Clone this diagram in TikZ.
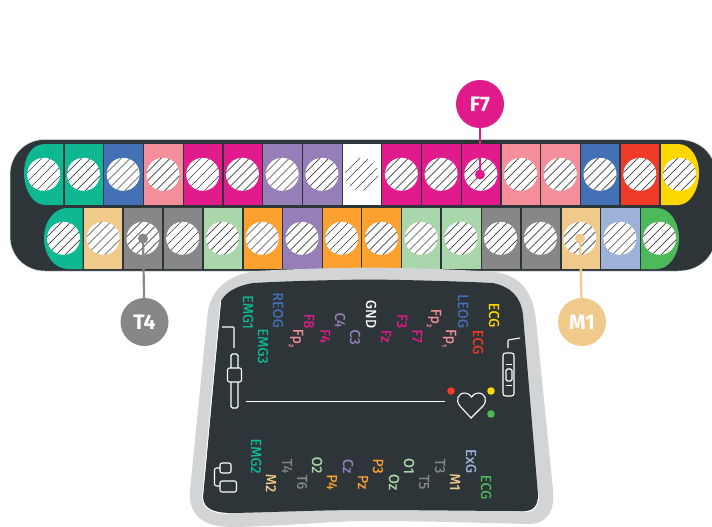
\documentclass[tikz,border=0pt]{standalone}
\usepackage{fontspec}
\setmainfont{Fira Sans}
\newfontfamily\labfont[FakeBold=0.35]{Fira Sans}
\definecolor{cdark}{HTML}{2E3538}
\definecolor{cedge}{HTML}{D3D4D6}
\definecolor{cteal}{HTML}{0DB893}
\definecolor{cblue}{HTML}{4470B6}
\definecolor{cpink}{HTML}{F48E9A}
\definecolor{cmag}{HTML}{E21B8C}
\definecolor{cpurp}{HTML}{967EB8}
\definecolor{cred}{HTML}{F03B27}
\definecolor{cyel}{HTML}{FFD700}
\definecolor{corg}{HTML}{FCA02F}
\definecolor{clgr}{HTML}{A9D6AB}
\definecolor{cgray}{HTML}{868786}
\definecolor{ctan}{HTML}{F0CA8B}
\definecolor{clbl}{HTML}{9DB2D9}
\definecolor{cgrn}{HTML}{4CB95B}
\newcommand{\hatchdisc}[2]{%
  \fill[white] (#1,#2) circle[radius=16.5];
  \begin{scope}
    \clip (#1,#2) circle[radius=16.5];
    \foreach \d in {-18,-13.5,...,18}
      \draw[hatchline] ({#1-20+\d},{#2+20+\d}) -- ({#1+20+\d},{#2-20+\d});
  \end{scope}}
\newcommand{\lowidx}[1]{\raisebox{-0.28em}{\fontsize{6.5}{7}\selectfont #1}}
\tikzset{
  hatchline/.style={draw=black!75,line width=0.65pt},
  lab/.style={rotate=-90,inner sep=0,font=\labfont\fontsize{14.5}{15}\selectfont},
  badge/.style={circle,minimum size=48pt,inner sep=0,text=white,font=\bfseries\fontsize{21}{22}\selectfont},
  icon/.style={draw=white,line width=1.1pt,rounded corners=1.5pt},
  pin/.style={line width=2.2pt}
}
\begin{document}
\begin{tikzpicture}[x=1pt,y=-1pt]
\useasboundingbox (0,0) rectangle (712,527);
% bar
\fill[cdark,draw=cedge,line width=0.5pt] (45,139.5) -- (678,139.5) .. controls (697,139.5) and (712,150) .. (716,170) -- (716,240) .. controls (712,260) and (697,271) .. (678,271) -- (45,271) .. controls (25,271) and (10,256) .. (10,236) -- (10,175) .. controls (10,155) and (25,139.5) .. (45,139.5) -- cycle;
% top row cells
\fill[cteal] (63,144) -- (45,144) .. controls (31,144) and (24,158) .. (24,173) .. controls (24,190) and (33,205) .. (45,205) -- (63,205) -- cycle;
\foreach \xa/\xb/\c in {65/103/cteal,104/142.5/cblue,144/182.5/cpink,184/222/cmag,223.5/261.5/cmag,263/301.5/cpurp,303/342/cpurp,343/381/white,382/421/cmag,422/460.5/cmag,462/500/cmag,502/540/cpink,541/579.5/cpink,581/619/cblue,621/659/cred}
  \fill[\c] (\xa,144) rectangle (\xb,205);
\fill[cyel] (661,144) -- (678,144) .. controls (691,144) and (699,158) .. (699,173) .. controls (699,190) and (690,205) .. (678,205) -- (661,205) -- cycle;
% bottom row cells
\fill[cteal] (82.5,208) -- (68,208) .. controls (52,208) and (44,224) .. (44,238) .. controls (44,255) and (54,269) .. (68,269) -- (82.5,269) -- cycle;
\foreach \xa/\xb/\c in {84/122/ctan,124/162/cgray,164/202/cgray,204/242/clgr,243.5/281.5/corg,283/321.5/cpurp,323/361/corg,362/400.5/corg,402/440/clgr,442/480.5/clgr,482/519.5/cgray,521.5/559.5/cgray,561.5/599.5/ctan,601/639.5/clbl}
  \fill[\c] (\xa,208) rectangle (\xb,269);
\fill[cgrn] (641,208) -- (657,208) .. controls (671,208) and (679,224) .. (679,238) .. controls (679,255) and (669,269) .. (657,269) -- (641,269) -- cycle;
% hatched discs
\foreach \x in {43.7,83.5,123.2,163,202.7,242.4,282.2,321.9,361.7,401.4,441.1,480.8,520.6,560.3,600,639.8,679.5}
  {\hatchdisc{\x}{174.3}}
\foreach \x in {63.5,103.2,143,182.7,222.5,262.2,302,341.7,381.4,421.2,460.9,500.6,540.4,580.1,619.9,659.6}
  {\hatchdisc{\x}{238.3}}
% device
\fill[cedge] (370,267.5) .. controls (330,268) and (290,269) .. (257,271) .. controls (228,274) and (212,290) .. (208,310) -- (190,490) .. controls (188,515) and (203,527) .. (232,527) .. controls (290,526) and (330,521) .. (370,521) .. controls (430,521) and (480,523) .. (530,524) .. controls (548,523) and (555,510) .. (553,490) -- (536,320) .. controls (533,290) and (518,275) .. (495,272) .. controls (450,269) and (410,268) .. (370,267.5) -- cycle;
\fill[cdark] (370,279.5) .. controls (330,280) and (290,281) .. (253,283) .. controls (236,286) and (226,292) .. (221,301) -- (203,497) .. controls (203,509) and (215,513) .. (232,513) .. controls (280,512) and (320,510) .. (365,510) .. controls (420,510) and (480,511) .. (525,511) .. controls (534,511) and (538,505) .. (538,495) -- (523,315) .. controls (521,297) and (511,287) .. (493,283) .. controls (450,281) and (410,280) .. (370,279.5) -- cycle;
\draw[white,line width=0.8pt] (220.6,301) -- (202.5,497) .. controls (202.5,509.5) and (215,513.5) .. (228,513.5);
\draw[white,line width=0.8pt] (525,511.6) .. controls (534.5,511.6) and (538.6,505) .. (538.6,495);
% labels
\node[lab,text=cteal] (emgone) at (248,312) {EMG1};
\node[lab,text=cteal] (emgthree) at (263,346) {EMG3};
\node[lab,text=cblue] (reog) at (278,310) {REOG};
\node[lab,text=cpink] (fptwoa) at (296,338) {Fp\lowidx{2}};
\node[lab,text=cmag] (feight) at (309,321) {F8};
\node[lab,text=cmag] (ffour) at (325,336) {F4};
\node[lab,text=cpurp] (cfour) at (340,320) {C4};
\node[lab,text=cpurp] (cthree) at (355,337) {C3};
\node[lab,text=white] (gnd) at (371,314) {GND};
\node[lab,text=cmag] (fz) at (386,336) {Fz};
\node[lab,text=cmag] (fthree) at (402,321) {F3};
\node[lab,text=cmag] (fseven) at (417,336) {F7};
\node[lab,text=cpink] (fptwob) at (434,318) {Fp\lowidx{2}};
\node[lab,text=cpink] (fpone) at (449,338) {Fp\lowidx{1}};
\node[lab,text=cblue] (leog) at (463,311) {LEOG};
\node[lab,text=cred] (ecgr) at (478,342) {ECG};
\node[lab,text=cyel] (ecgy) at (494,315) {ECG};
\node[lab,text=cteal] (emgtwo) at (256,456) {EMG2};
\node[lab,text=ctan] (mtwo) at (271,483) {M2};
\node[lab,text=cgray] (tfour) at (287,466) {T4};
\node[lab,text=cgray] (tsix) at (302,482) {T6};
\node[lab,text=clgr] (otwo) at (317,465) {O2};
\node[lab,text=corg] (pfour) at (332,482) {P4};
\node[lab,text=cpurp] (cz) at (348,466) {Cz};
\node[lab,text=corg] (pz) at (363,482) {Pz};
\node[lab,text=corg] (pthree) at (378,466) {P3};
\node[lab,text=clgr] (oz) at (394,482) {Oz};
\node[lab,text=clgr] (oone) at (409,466) {O1};
\node[lab,text=cgray] (tfive) at (424,482) {T5};
\node[lab,text=cgray] (tthree) at (440,466) {T3};
\node[lab,text=ctan] (mone) at (455,482) {M1};
\node[lab,text=clbl] (exg) at (471,461) {ExG};
\node[lab,text=cgrn] (ecgg) at (486,487) {ECG};
% icons
\draw[icon,rounded corners=0.8pt] (222,327) -- (234,327) -- (234,348);
\draw[icon] (231,408) -- (231,354) -- (238,354) -- (238,408) -- cycle;
\draw[icon,fill=cdark,rounded corners=2pt] (227.5,368) rectangle (241.5,382);
\draw[draw=white,line width=1.5pt] (246,401.5) -- (445,401.5);
\draw[icon,rounded corners=0.8pt] (520,338) -- (508,340) -- (508,348);
\draw[icon,rounded corners=2.5pt] (503,353) rectangle (514,396);
\draw[icon,rounded corners=1.5pt] (506,369) rectangle (512,381);
\draw[draw=white,line width=1pt] (506,364) -- (512,364) (506,385) -- (512,385);
\draw[draw=white,line width=1.1pt,line join=miter] (471,418) -- (460,406) .. controls (455,400) and (458,393) .. (465,393) .. controls (468,393) and (470,395) .. (471.5,397) .. controls (473,395) and (475,393) .. (478,393) .. controls (485,393) and (488,400) .. (483,406) -- cycle;
\fill[cred] (451,391) circle[radius=3.8];
\fill[cyel] (491,391) circle[radius=3.8];
\fill[cgrn] (491,414) circle[radius=3.8];
\draw[icon,rounded corners=2pt] (220,463) rectangle (231,473);
\draw[icon,rounded corners=2pt] (220,481) rectangle (236.5,492);
\draw[icon,rounded corners=2pt] (220,468) -- (214.5,468) -- (214.5,486) -- (220,486);
% callouts
\node[badge,fill=cmag] (bfseven) at (480,104) {F7};
\node[badge,fill=cgray] (btfour) at (144.5,322) {T4};
\node[badge,fill=ctan] (bmone) at (582,322) {M1};
\coordinate (dfseven) at (480,174.5);
\coordinate (dtfour) at (143,238.5);
\coordinate (dmone) at (580,238.5);
\fill[cmag] (dfseven) circle[radius=5];
\fill[cgray] (dtfour) circle[radius=5];
\fill[ctan] (dmone) circle[radius=5];
\draw[pin,draw=cmag] (bfseven) -- (dfseven);
\draw[pin,draw=cgray] (btfour) -- (dtfour);
\draw[pin,draw=ctan] (bmone) -- (dmone);
\end{tikzpicture}
\end{document}
